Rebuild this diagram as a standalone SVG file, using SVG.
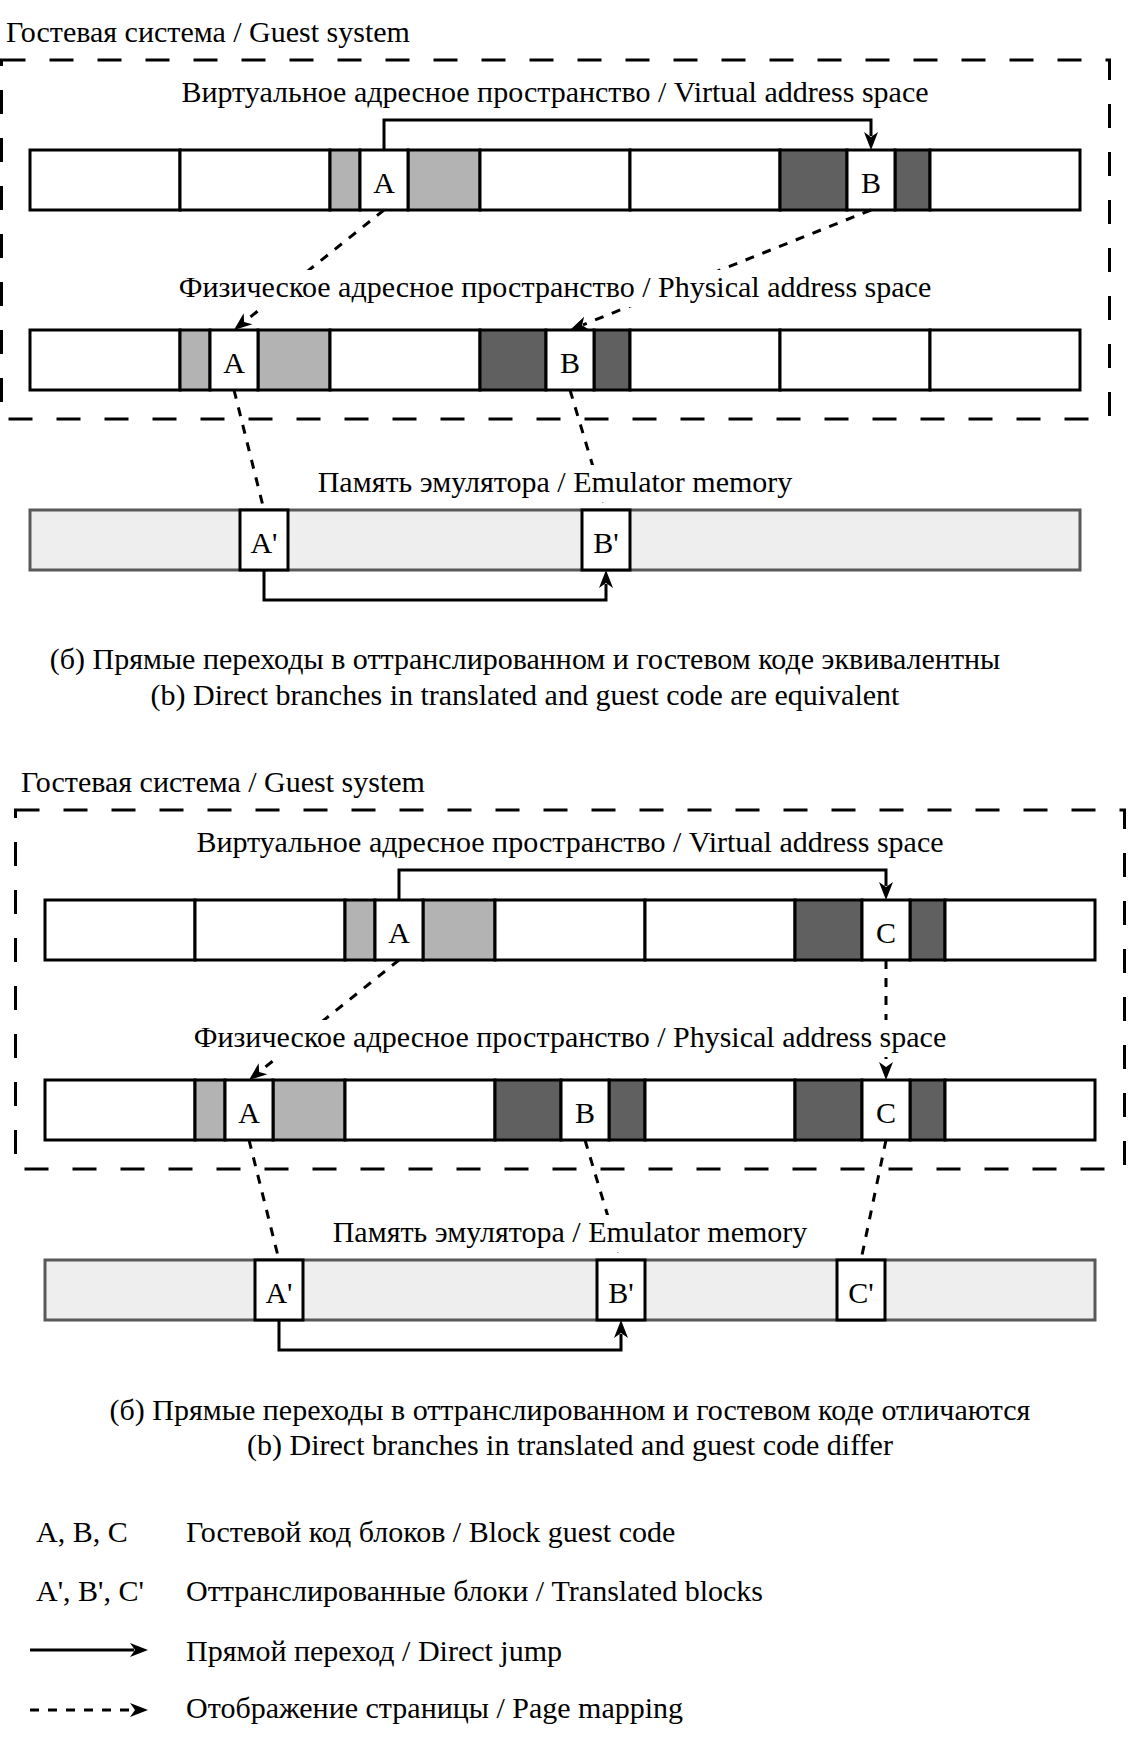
<svg xmlns="http://www.w3.org/2000/svg" width="1128" height="1740" viewBox="0 0 1128 1740">
<style>
text{font-family:"Liberation Serif","Times New Roman",serif;font-size:30px;fill:#000}
.c{text-anchor:middle}
.pg{fill:#fff;stroke:#000;stroke-width:3}
.lt{fill:#b3b3b3;stroke:#000;stroke-width:3}
.dk{fill:#606060;stroke:#000;stroke-width:3}
.cell{fill:#fff;stroke:#000;stroke-width:3}
.emu{fill:#eeeeee;stroke:#595959;stroke-width:3}
.box{fill:none;stroke:#000;stroke-width:3;stroke-dasharray:24 24}
.jump{fill:none;stroke:#000;stroke-width:3;marker-end:url(#ah)}
.map{fill:none;stroke:#000;stroke-width:3;stroke-dasharray:9 9}
.mapa{fill:none;stroke:#000;stroke-width:3;stroke-dasharray:9 9;marker-end:url(#ah)}
.bg{fill:#fff}
</style>
<defs>
<marker id="ah" markerUnits="userSpaceOnUse" markerWidth="20" markerHeight="16" viewBox="0 -8 20 16" refX="4" refY="0" orient="auto">
<path d="M0,-7 L18,0 L0,7 L5,0 Z" fill="#000"/>
</marker>
</defs>
<rect width="1128" height="1740" fill="#fff"/>

<!-- ===== Section 1 ===== -->
<g id="guest1">
<rect class="box" x="1.5" y="60" width="1108" height="359"/>
<text x="6" y="42">Гостевая система / Guest system</text>
</g>

<g id="virt1">
<rect class="pg" x="30" y="150" width="150" height="60"/>
<rect class="pg" x="180" y="150" width="150" height="60"/>
<rect class="lt" x="330" y="150" width="30" height="60"/>
<rect class="lt" x="408" y="150" width="72" height="60"/>
<rect class="pg" x="480" y="150" width="150" height="60"/>
<rect class="pg" x="630" y="150" width="150" height="60"/>
<rect class="dk" x="780" y="150" width="67" height="60"/>
<rect class="dk" x="895" y="150" width="35" height="60"/>
<rect class="pg" x="930" y="150" width="150" height="60"/>
</g>
<g id="v1A"><rect class="cell" x="360" y="150" width="48" height="60"/><text class="c" x="384" y="192.5">A</text></g>
<g id="v1B"><rect class="cell" x="847" y="150" width="48" height="60"/><text class="c" x="871" y="192.5">B</text></g>

<g id="phys1">
<rect class="pg" x="30" y="330" width="150" height="60"/>
<rect class="lt" x="180" y="330" width="30" height="60"/>
<rect class="lt" x="258" y="330" width="72" height="60"/>
<rect class="pg" x="330" y="330" width="150" height="60"/>
<rect class="dk" x="480" y="330" width="66" height="60"/>
<rect class="dk" x="594" y="330" width="36" height="60"/>
<rect class="pg" x="630" y="330" width="150" height="60"/>
<rect class="pg" x="780" y="330" width="150" height="60"/>
<rect class="pg" x="930" y="330" width="150" height="60"/>
</g>
<g id="p1A"><rect class="cell" x="210" y="330" width="48" height="60"/><text class="c" x="234" y="372.5">A</text></g>
<g id="p1B"><rect class="cell" x="546" y="330" width="48" height="60"/><text class="c" x="570" y="372.5">B</text></g>

<g id="emu1"><rect class="emu" x="30" y="510" width="1050" height="60"/></g>
<g id="e1A"><rect class="cell" x="240" y="510" width="48" height="60"/><text class="c" x="264" y="552.5">A'</text></g>
<g id="e1B"><rect class="cell" x="582" y="510" width="48" height="60"/><text class="c" x="606" y="552.5">B'</text></g>

<!-- ===== Section 2 ===== -->
<g id="guest2">
<rect class="box" x="15.5" y="810" width="1109" height="359"/>
<text x="21" y="792">Гостевая система / Guest system</text>
</g>

<g id="virt2">
<rect class="pg" x="45" y="900" width="150" height="60"/>
<rect class="pg" x="195" y="900" width="150" height="60"/>
<rect class="lt" x="345" y="900" width="30" height="60"/>
<rect class="lt" x="423" y="900" width="72" height="60"/>
<rect class="pg" x="495" y="900" width="150" height="60"/>
<rect class="pg" x="645" y="900" width="150" height="60"/>
<rect class="dk" x="795" y="900" width="67" height="60"/>
<rect class="dk" x="910" y="900" width="35" height="60"/>
<rect class="pg" x="945" y="900" width="150" height="60"/>
</g>
<g id="v2A"><rect class="cell" x="375" y="900" width="48" height="60"/><text class="c" x="399" y="942.5">A</text></g>
<g id="v2C"><rect class="cell" x="862" y="900" width="48" height="60"/><text class="c" x="886" y="942.5">C</text></g>

<g id="phys2">
<rect class="pg" x="45" y="1080" width="150" height="60"/>
<rect class="lt" x="195" y="1080" width="30" height="60"/>
<rect class="lt" x="273" y="1080" width="72" height="60"/>
<rect class="pg" x="345" y="1080" width="150" height="60"/>
<rect class="dk" x="495" y="1080" width="66" height="60"/>
<rect class="dk" x="609" y="1080" width="36" height="60"/>
<rect class="pg" x="645" y="1080" width="150" height="60"/>
<rect class="dk" x="795" y="1080" width="67" height="60"/>
<rect class="dk" x="910" y="1080" width="35" height="60"/>
<rect class="pg" x="945" y="1080" width="150" height="60"/>
</g>
<g id="p2A"><rect class="cell" x="225" y="1080" width="48" height="60"/><text class="c" x="249" y="1122.5">A</text></g>
<g id="p2B"><rect class="cell" x="561" y="1080" width="48" height="60"/><text class="c" x="585" y="1122.5">B</text></g>
<g id="p2C"><rect class="cell" x="862" y="1080" width="48" height="60"/><text class="c" x="886" y="1122.5">C</text></g>

<g id="emu2"><rect class="emu" x="45" y="1260" width="1050" height="60"/></g>
<g id="e2A"><rect class="cell" x="255" y="1260" width="48" height="60"/><text class="c" x="279" y="1302.5">A'</text></g>
<g id="e2B"><rect class="cell" x="597" y="1260" width="48" height="60"/><text class="c" x="621" y="1302.5">B'</text></g>
<g id="e2C"><rect class="cell" x="837" y="1260" width="48" height="60"/><text class="c" x="861" y="1302.5">C'</text></g>

<!-- ===== Connectors ===== -->
<g id="connectors">
<path class="jump" d="M384,150 V120 H871 V136"/>
<path class="mapa" d="M384,210 L244.9,321.3"/>
<path class="mapa" d="M871,210 L583,324.8"/>
<path class="map" d="M234,390 L264,510"/>
<path class="map" d="M570,390 L606,510"/>
<path class="jump" d="M264,570 V600 H606 V584"/>

<path class="jump" d="M399,900 V870 H886 V886"/>
<path class="mapa" d="M399,960 L259.9,1071.3"/>
<path class="mapa" d="M886,960 L886,1066"/>
<path class="map" d="M249,1140 L279,1260"/>
<path class="map" d="M585,1140 L621,1260"/>
<path class="map" d="M886,1140 L861,1260"/>
<path class="jump" d="M279,1320 V1350 H621 V1334"/>
</g>

<!-- ===== Labels with background ===== -->
<g id="label-virt1"><rect class="bg" x="180" y="75" width="750" height="37"/><text class="c" x="555" y="102">Виртуальное адресное пространство / Virtual address space</text></g>
<g id="label-phys1"><rect class="bg" x="178" y="270" width="754" height="37"/><text class="c" x="555" y="297">Физическое адресное пространство / Physical address space</text></g>
<g id="label-emu1"><rect class="bg" x="313" y="465" width="484" height="37"/><text class="c" x="555" y="492">Память эмулятора / Emulator memory</text></g>
<g id="caption1">
<text class="c" x="525" y="669">(б) Прямые переходы в оттранслированном и гостевом коде эквивалентны</text>
<text class="c" x="525" y="705">(b) Direct branches in translated and guest code are equivalent</text>
</g>

<g id="label-virt2"><rect class="bg" x="195" y="825" width="750" height="37"/><text class="c" x="570" y="852">Виртуальное адресное пространство / Virtual address space</text></g>
<g id="label-phys2"><rect class="bg" x="193" y="1020" width="754" height="37"/><text class="c" x="570" y="1047">Физическое адресное пространство / Physical address space</text></g>
<g id="label-emu2"><rect class="bg" x="328" y="1215" width="484" height="37"/><text class="c" x="570" y="1242">Память эмулятора / Emulator memory</text></g>
<g id="caption2">
<text class="c" x="570" y="1420">(б) Прямые переходы в оттранслированном и гостевом коде отличаются</text>
<text class="c" x="570" y="1455">(b) Direct branches in translated and guest code differ</text>
</g>

<!-- ===== Legend ===== -->
<g id="legend">
<text x="36" y="1542">A, B, C</text>
<text x="186" y="1542">Гостевой код блоков / Block guest code</text>
<text x="36" y="1601">A', B', C'</text>
<text x="186" y="1601">Оттранслированные блоки / Translated blocks</text>
<path class="jump" d="M30,1650 H134"/>
<text x="186" y="1661">Прямой переход / Direct jump</text>
<path class="mapa" d="M30,1710 H134"/>
<text x="186" y="1718">Отображение страницы / Page mapping</text>
</g>
</svg>
